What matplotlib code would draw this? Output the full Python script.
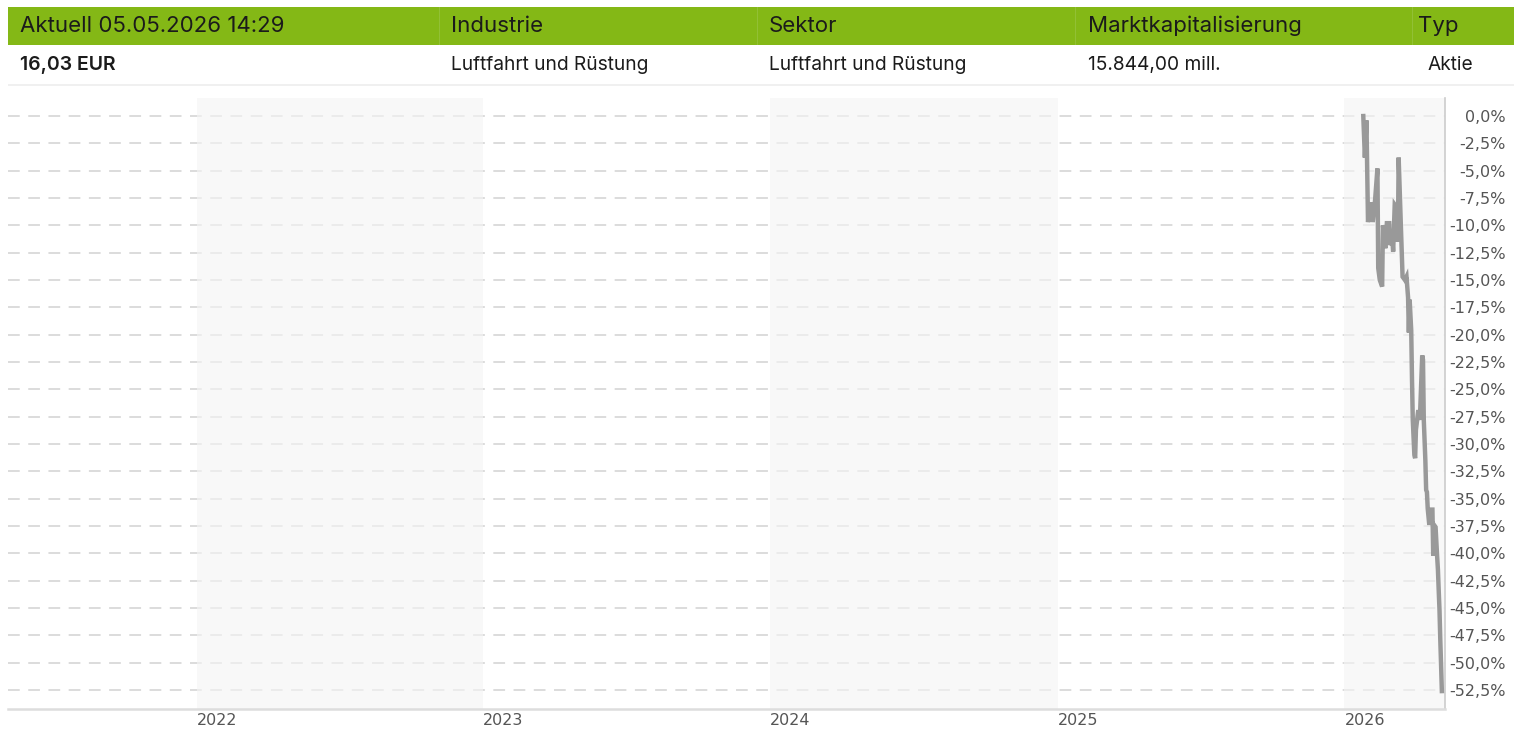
import matplotlib
matplotlib.use("Agg")
import matplotlib.pyplot as plt
import matplotlib.dates as mdates
from matplotlib.patches import Rectangle
import numpy as np
import pandas as pd

# ---------------- data ----------------
header_labels = ["Aktuell 05.05.2026 14:29", "Industrie", "Sektor", "Marktkapitalisierung", "Typ"]
row_values = ["16,03 EUR", "Luftfahrt und Rüstung", "Luftfahrt und Rüstung", "15.844,00 mill.", "Aktie"]

dates = pd.to_datetime([
    "2026-01-25", "2026-01-27", "2026-01-29", "2026-01-31", "2026-02-03", "2026-02-05",
    "2026-02-06", "2026-02-09", "2026-02-12", "2026-02-13", "2026-02-15", "2026-02-18",
    "2026-02-19", "2026-02-22", "2026-02-24", "2026-02-27", "2026-02-28", "2026-03-03",
    "2026-03-04", "2026-03-06", "2026-03-09", "2026-03-10", "2026-03-11", "2026-03-14",
    "2026-03-16", "2026-03-19", "2026-03-21", "2026-03-23", "2026-03-24", "2026-03-25",
    "2026-03-27", "2026-03-28", "2026-03-29", "2026-03-31", "2026-04-01", "2026-04-02",
    "2026-04-05", "2026-04-07", "2026-04-10", "2026-04-11", "2026-04-12", "2026-04-14",
    "2026-04-15", "2026-04-16", "2026-04-17", "2026-04-19", "2026-04-21", "2026-04-23",
    "2026-04-24", "2026-04-25", "2026-04-27", "2026-04-29", "2026-04-30", "2026-05-01",
    "2026-05-02", "2026-05-03", "2026-05-04", "2026-05-05",
])
performance = [
    0.0, -3.8, -0.4, -9.7, -8.6, -7.9,
    -9.7, -7.7, -4.8, -13.9, -15.0, -15.6,
    -10.0, -12.1, -9.8, -9.8, -11.8, -11.3,
    -12.4, -8.1, -8.4, -11.5, -3.8, -10.4,
    -14.7, -15.0, -14.7, -16.6, -19.8, -16.8,
    -19.6, -24.1, -27.8, -31.0, -31.3, -28.7,
    -26.9, -27.8, -21.9, -22.3, -27.8, -31.5,
    -34.2, -34.4, -35.9, -37.4, -36.0, -36.0,
    -40.2, -37.4, -37.6, -40.3, -41.5, -43.4,
    -45.2, -47.9, -50.2, -52.6,
]

y_ticks = [0.0, -2.5, -5.0, -7.5, -10.0, -12.5, -15.0, -17.5, -20.0, -22.5, -25.0,
           -27.5, -30.0, -32.5, -35.0, -37.5, -40.0, -42.5, -45.0, -47.5, -50.0, -52.5]
year_ticks = ["2022", "2023", "2024", "2025", "2026"]

# ---------------- figure ----------------
W, H = 1521, 731
fig = plt.figure(figsize=(W / 100, H / 100), dpi=100)
fig.patch.set_facecolor("white")

def fx(px):
    return px / W

def fy(py):
    return 1 - py / H

# header table
green = "#84b816"
fig.patches.append(Rectangle((fx(8), fy(45)), fx(1514) - fx(8), fy(7) - fy(45),
                             transform=fig.transFigure, facecolor=green, edgecolor="none", zorder=0))
for sx in [439, 757, 1075, 1412]:
    fig.patches.append(Rectangle((fx(sx), fy(45)), fx(1), fy(7) - fy(45),
                                 transform=fig.transFigure, facecolor="#92c035", edgecolor="none", zorder=1))
fig.patches.append(Rectangle((fx(8), fy(86)), fx(1514) - fx(8), fy(84) - fy(86),
                             transform=fig.transFigure, facecolor="#f0f0f0", edgecolor="none", zorder=0))

col_x = [20, 451, 769, 1088, 1418]
row2_x = [20, 451, 769, 1088, 1428]
for i, (lab, val) in enumerate(zip(header_labels, row_values)):
    fig.text(fx(col_x[i]), fy(26), lab, fontsize=16, family="Inter", color="#1b1b1b",
             ha="left", va="center")
    fig.text(fx(row2_x[i]), fy(65), val, fontsize=14 if i == 0 else 13.8, family="Inter",
             color="#1b1b1b", ha="left", va="center",
             fontweight="semibold" if i == 0 else "normal")

# chart axes
L, R, T, B = 8, 1445, 98, 709
ax = fig.add_axes([fx(L), fy(B), fx(R) - fx(L), fy(T) - fy(B)])
ax.set_facecolor("white")

x0 = pd.Timestamp("2021-05-06")
x1 = pd.Timestamp("2026-05-09")
ax.set_xlim(x0, x1)
ax.set_ylim(-54.24, 1.65)

# grid lines
for v in y_ticks:
    ax.axhline(v, color="#d9d9d9", lw=1.3, dashes=(6.5, 4.7), zorder=0)

# alternating year bands
band_years = [("2022-01-01", "2023-01-01"), ("2024-01-01", "2025-01-01"), ("2026-01-01", "2026-05-09")]
for a, b in band_years:
    ax.axvspan(pd.Timestamp(a), pd.Timestamp(b), color="#f5f5f5", alpha=0.62, lw=0, zorder=1)

ax.plot(dates, performance, color="#999999", lw=3.2, solid_joinstyle="miter", zorder=3)

# spines
for s in ["top", "left"]:
    ax.spines[s].set_visible(False)
ax.spines["right"].set_color("#cccccc")
ax.spines["right"].set_linewidth(1.2)
ax.spines["bottom"].set_color("#dddddd")
ax.spines["bottom"].set_linewidth(1.8)

# y ticks on right
ax.yaxis.tick_right()
ax.set_yticks(y_ticks)
ax.set_yticklabels([("%.1f%%" % v).replace(".", ",") for v in y_ticks])
ax.tick_params(axis="y", length=0, pad=43.5, labelsize=11.5, labelcolor="#555555")
for t in ax.get_yticklabels():
    t.set_horizontalalignment("right")

# x ticks
ax.set_xticks([pd.Timestamp(f"{y}-01-01") for y in year_ticks])
ax.set_xticklabels(year_ticks)
ax.tick_params(axis="x", length=0, pad=3, labelsize=11.5, labelcolor="#555555")
for t in ax.get_xticklabels():
    t.set_horizontalalignment("left")

fig.savefig("out.png", dpi=100, facecolor="white")
